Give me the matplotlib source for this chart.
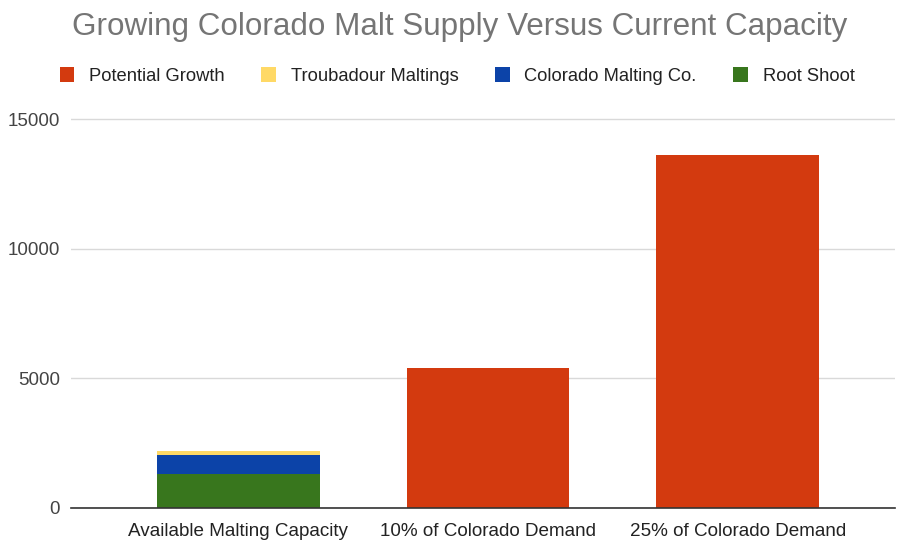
import matplotlib
matplotlib.use('Agg')
import matplotlib.pyplot as plt
import numpy as np

categories = ['Available Malting Capacity', '10% of Colorado Demand', '25% of Colorado Demand']
root_shoot = [1300, 0, 0]
colorado_malting = [750, 0, 0]
troubadour = [150, 0, 0]
potential_growth = [0, 5400, 13600]

series_names = ['Potential Growth', 'Troubadour Maltings', 'Colorado Malting Co.', 'Root Shoot']
series_colors = ['#d33a0f', '#ffd966', '#0c43a8', '#38761d']
y_ticks = [0, 5000, 10000, 15000]


def main():
	plt.rcParams['font.family'] = ['Liberation Sans', 'DejaVu Sans']
	dpi = 100
	fig = plt.figure(figsize=(898 / dpi, 541 / dpi), dpi=dpi)
	ax = fig.add_axes([71 / 898, 1 - 508 / 541, (895 - 71) / 898, (508 - 100) / 541])

	x = np.arange(len(categories))
	width = 0.652
	# stack from the bottom up: Root Shoot, Colorado Malting, Troubadour, Potential Growth
	stack = [
		(root_shoot, series_colors[3], series_names[3]),
		(colorado_malting, series_colors[2], series_names[2]),
		(troubadour, series_colors[1], series_names[1]),
		(potential_growth, series_colors[0], series_names[0]),
	]
	bottom = np.zeros(len(categories))
	handles = {}
	for vals, col, name in stack:
		vals = np.array(vals, dtype=float)
		b = ax.bar(x, vals, width, bottom=bottom, color=col, zorder=3, label=name)
		handles[name] = b
		bottom += vals

	ax.set_xlim(-0.67, 2.63)
	ax.set_ylim(0, 15000 * (508 - 100) / (508 - 119))
	ax.set_yticks(y_ticks)
	ax.set_yticklabels([str(t) for t in y_ticks], fontsize=13.6, color='#444444')
	ax.set_xticks(x)
	ax.set_xticklabels(categories, fontsize=13.6, color='#222222')
	ax.tick_params(axis='x', length=0, pad=11)
	ax.tick_params(axis='y', length=0, pad=8)
	ax.grid(axis='y', color='#d9d9d9', linewidth=1, zorder=0)
	for s in ['top', 'right', 'left']:
		ax.spines[s].set_visible(False)
	ax.spines['bottom'].set_color('#333333')
	ax.spines['bottom'].set_linewidth(1.2)
	ax.spines['bottom'].set_zorder(4)

	fig.text(460 / 898, 1 - 35 / 541, 'Growing Colorado Malt Supply Versus Current Capacity',
		ha='center', va='baseline', fontsize=22.6, color='#757575')

	leg = fig.legend([handles[n] for n in series_names], series_names,
		loc='center', bbox_to_anchor=(457 / 898, 1 - 76 / 541), ncol=4, frameon=False,
		fontsize=13.2, handlelength=0.8, handleheight=0.9, handletextpad=0.8,
		columnspacing=2.0)
	for t in leg.get_texts():
		t.set_color('#222222')

	fig.savefig('out.png', dpi=dpi)
	plt.close(fig)


if __name__ == '__main__':
	main()
